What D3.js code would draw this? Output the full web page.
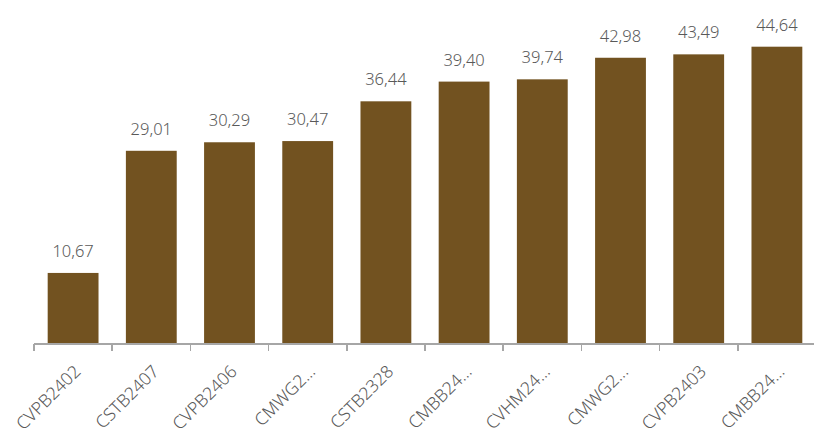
<!DOCTYPE html>
<meta charset="utf-8">
<style>
body { margin: 0; background-color: #ffffff; }
.bar { fill: #725220; }
.axis line { fill: none; stroke: #a6a6a6; stroke-width: 1.5px; shape-rendering: crispEdges; }
.axis text { font-family: "Noto Sans", Lato, sans-serif; font-size: 17.5px; font-weight: 300; fill: #595959; }
.numLabel { font-family: "Noto Sans", Lato, sans-serif; font-size: 16.5px; font-weight: 300; fill: #595959; }
</style>
<svg width="814" height="435"></svg>
<script src="https://d3js.org/d3.v7.min.js"></script>
<script>

var categories = ["CVPB2402", "CSTB2407", "CVPB2406", "CMWG2...", "CSTB2328", "CMBB24...", "CVHM24...", "CMWG2...", "CVPB2403", "CMBB24..."];
var values = [10.67, 29.01, 30.29, 30.47, 36.44, 39.40, 39.74, 42.98, 43.49, 44.64];

var svg = d3.select("svg"),
    margin = {top: 11, right: -2, bottom: 91, left: 34},
    width = +svg.attr("width") - margin.left - margin.right,
    height = +svg.attr("height") - margin.top - margin.bottom;

var g = svg.append("g")
    .attr("transform", "translate(" + margin.left + "," + margin.top + ")");

// categories are indexed so the duplicate names stay separate bands
var x = d3.scaleBand().domain(d3.range(categories.length)).range([0, width]).paddingInner(0.35).paddingOuter(0.175);
var y = d3.scaleLinear().domain([0, 50]).range([height, 0]);
var fmt = function(v) { return d3.format(".2f")(v).replace(".", ","); };

var data = values.map(function(v, i) { return {i: i, name: categories[i], value: v}; });

g.selectAll(".bar")
    .data(data)
  .enter().append("rect")
    .attr("class", "bar")
    .attr("x", function(d) { return x(d.i); })
    .attr("y", function(d) { return y(d.value); })
    .attr("width", x.bandwidth())
    .attr("height", function(d) { return height - y(d.value); });

g.selectAll(".numLabel")
    .data(data)
  .enter().append("text")
    .attr("class", "numLabel")
    .attr("x", function(d) { return x(d.i) + x.bandwidth() / 2; })
    .attr("y", function(d) { return y(d.value) - 16; })
    .attr("text-anchor", "middle")
    .text(function(d) { return fmt(d.value); });

// axis: ticks sit on the band boundaries, labels on the band centres
var xAxis = g.append("g")
    .attr("class", "x axis")
    .attr("transform", "translate(0," + height + ")");

xAxis.append("line")
    .attr("x1", 0).attr("x2", width);

xAxis.selectAll(".tick")
    .data(data)
  .enter().append("line")
    .attr("class", "tick")
    .attr("x1", function(d) { return x(d.i) - x.step() * 0.175; })
    .attr("x2", function(d) { return x(d.i) - x.step() * 0.175; })
    .attr("y1", 0).attr("y2", 7);

xAxis.selectAll(".tlabel")
    .data(data)
  .enter().append("text")
    .attr("class", "tlabel")
    .attr("text-anchor", "end")
    .attr("transform", function(d) {
      return "translate(" + (x(d.i) + x.bandwidth() / 2 + 0) + ",20) rotate(-45)";
    })
    .attr("dy", "0.7em")
    .text(function(d) { return d.name; });

</script>
